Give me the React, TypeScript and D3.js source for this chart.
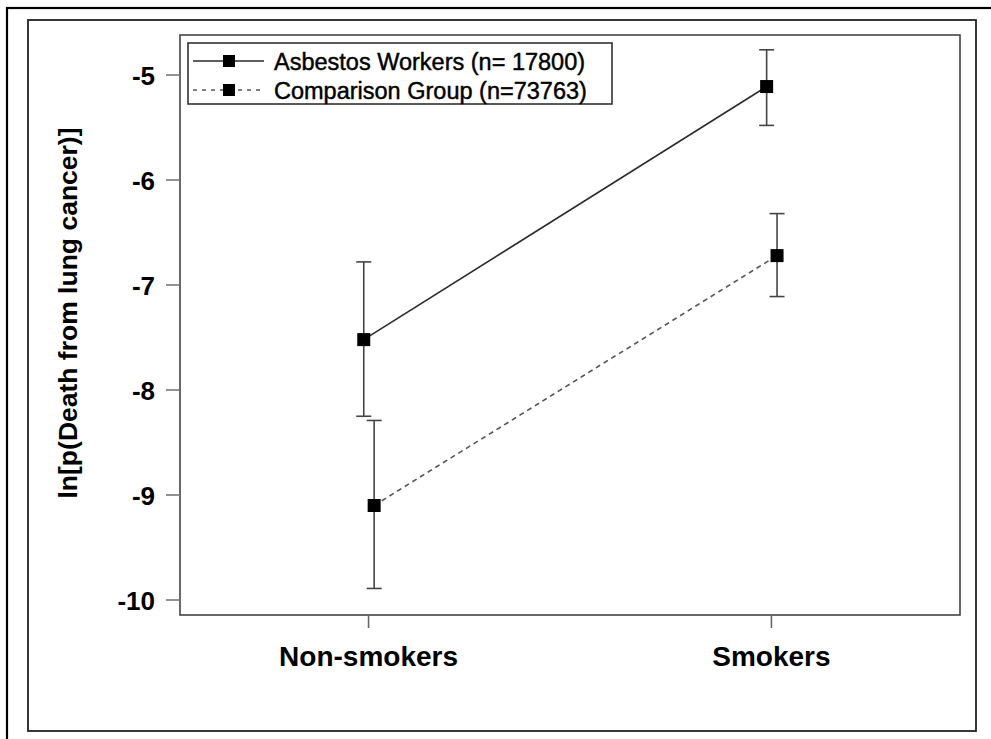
import React from "react";
import * as d3 from "d3";

const categories = ["Non-smokers", "Smokers"];
const yTicks = [-10, -9, -8, -7, -6, -5];

const asbestosMean = [-7.52, -5.11];
const asbestosLow = [-8.25, -5.48];
const asbestosHigh = [-6.78, -4.76];

const comparisonMean = [-9.1, -6.72];
const comparisonLow = [-9.89, -7.11];
const comparisonHigh = [-8.29, -6.32];

const seriesNames = ["Asbestos Workers (n= 17800)", "Comparison Group (n=73763)"];

const W = 991;
const H = 739;
const plot = { left: 180, right: 960, top: 35, bottom: 615 };

export default function App() {
  const x = d3.scalePoint<string>().domain(categories).range([plot.left, plot.right]).padding(0.468);
  const y = d3.scaleLinear().domain([-10, -5]).range([600, 75]);

  const series = [
    { name: seriesNames[0], mean: asbestosMean, low: asbestosLow, high: asbestosHigh, dx: -4.8, dash: undefined as string | undefined, legendDash: undefined as string | undefined, color: "#2a2a2a" },
    { name: seriesNames[1], mean: comparisonMean, low: comparisonLow, high: comparisonHigh, dx: 5.6, dash: "5,4", legendDash: "4,5", color: "#555" },
  ];

  const line = d3
    .line<[number, number]>()
    .x((d) => d[0])
    .y((d) => d[1]);

  const font = "'Liberation Sans', Arial, sans-serif";
  const ms = 13;
  const cap = 15;

  return (
    <div style={{ position: "absolute", left: 0, top: 0, width: W, height: H, background: "#fff" }}>
      <svg width={W} height={H} style={{ display: "block" }} fontFamily={font}>
        <rect x={0} y={0} width={W} height={H} fill="#fff" />
        {/* outer frame */}
        <rect x={7} y={8} width={W + 10} height={H + 10} fill="none" stroke="#000" strokeWidth={2.2} />
        {/* inner frame */}
        <rect x={28} y={20} width={948} height={711} fill="none" stroke="#222" strokeWidth={1.8} />
        {/* plot area */}
        <rect x={plot.left} y={plot.top} width={plot.right - plot.left} height={plot.bottom - plot.top} fill="none" stroke="#444" strokeWidth={1.6} />

        {/* y axis ticks */}
        {yTicks.map((t) => (
          <g key={t}>
            <line x1={166} x2={plot.left} y1={y(t)} y2={y(t)} stroke="#777" strokeWidth={1.6} />
            <text x={155} y={y(t)} dy="0.37em" textAnchor="end" fontSize={26} fontWeight="bold" fill="#000">
              {t}
            </text>
          </g>
        ))}

        {/* x axis ticks */}
        {categories.map((c) => (
          <g key={c}>
            <line x1={x(c)!} x2={x(c)!} y1={plot.bottom} y2={628} stroke="#666" strokeWidth={1.6} />
            <text x={x(c)!} y={666} textAnchor="middle" fontSize={28} fontWeight="bold" fill="#000">
              {c}
            </text>
          </g>
        ))}

        {/* y title */}
        <text
          transform={`translate(77, 313) rotate(-90)`}
          textAnchor="middle"
          fontSize={26.5}
          fontWeight="bold"
          fill="#000"
        >
          ln[p(Death from lung cancer)]
        </text>

        {/* series */}
        {series.map((s, si) => {
          const pts: [number, number][] = categories.map((c, i) => [x(c)! + s.dx, y(s.mean[i])]);
          return (
            <g key={si}>
              <path d={line(pts) || ""} fill="none" stroke={s.color} strokeWidth={1.6} strokeDasharray={s.dash} />
              {categories.map((c, i) => {
                const cx = x(c)! + s.dx;
                return (
                  <g key={c}>
                    <line x1={cx} x2={cx} y1={y(s.low[i])} y2={y(s.high[i])} stroke="#444" strokeWidth={1.6} />
                    <line x1={cx - cap / 2} x2={cx + cap / 2} y1={y(s.low[i])} y2={y(s.low[i])} stroke="#444" strokeWidth={1.6} />
                    <line x1={cx - cap / 2} x2={cx + cap / 2} y1={y(s.high[i])} y2={y(s.high[i])} stroke="#444" strokeWidth={1.6} />
                    <rect x={cx - ms / 2} y={y(s.mean[i]) - ms / 2} width={ms} height={ms} fill="#000" />
                  </g>
                );
              })}
            </g>
          );
        })}

        {/* legend */}
        <rect x={188} y={43} width={424} height={61} fill="#fff" stroke="#333" strokeWidth={1.6} />
        {series.map((s, i) => {
          const ly = 61 + i * 29;
          return (
            <g key={i}>
              <line x1={193} x2={264} y1={ly} y2={ly} stroke={s.color} strokeWidth={1.5} strokeDasharray={s.legendDash} />
              <rect x={229 - 6} y={ly - 6} width={12} height={12} fill="#000" />
              <text x={274} y={ly} dy="0.37em" fontSize={23.5} fill="#000" stroke="#000" strokeWidth={0.45}>
                {s.name}
              </text>
            </g>
          );
        })}
      </svg>
    </div>
  );
}
